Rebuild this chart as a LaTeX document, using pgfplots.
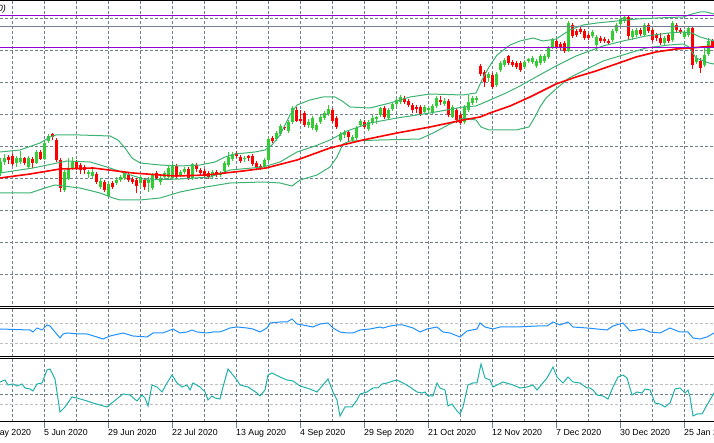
\documentclass[border=0pt]{standalone}
\usepackage{fontspec}
\setmainfont{Liberation Sans}
\usepackage{pgfplots}
\usepackage{pgfplotstable}
\pgfplotsset{compat=1.18}
\definecolor{gridc}{RGB}{112,128,144}
\definecolor{upc}{RGB}{50,205,50}
\definecolor{dnc}{RGB}{255,0,0}
\definecolor{bbc}{RGB}{60,179,113}
\definecolor{lvlc}{RGB}{192,192,192}
\definecolor{purp}{RGB}{148,0,211}
\definecolor{bluec}{RGB}{30,144,255}
\definecolor{tealc}{RGB}{32,178,170}

% candles, values in screen rows (smaller = higher price): k open high low close
\pgfplotstableread{
k o h l c
0 173 158 176 162
1 162 154 165 158
4 163 156 167 158
5 162 151 164 158
7 167 156 168 158
9 163 150 164 152
11 159 140 160 143
12 141 134 143 136
16 190 170 192 172
17 179 158 180 168
18 168 157 170 162
22 174 170 178 172
23 176 167 178 172
25 187 178 189 181
27 196 182 197 184
29 183 177 185 180
30 180 175 182 177
31 178 171 180 173
35 183 175 188 177
37 183 177 192 180
38 188 173 190 175
40 182 176 185 178
41 177 171 179 173
42 177 166 179 168
43 178 163 180 165
45 175 170 177 172
46 172 167 174 169
48 178 163 180 164
53 176 170 178 172
55 175 171 177 173
56 171 161 173 163
57 165 152 167 157
58 159 152 161 154
61 159 156 162 158
66 167 158 169 160
67 160 137 162 139
69 139 131 141 133
70 134 124 136 126
72 131 120 133 122
73 122 106 124 108
77 125 119 128 122
78 128 116 130 118
79 130 123 132 125
80 122 115 124 117
81 118 111 120 113
82 114 105 116 109
85 140 132 142 134
86 135 130 138 132
88 140 135 142 137
89 138 126 140 128
90 125 119 127 121
92 129 120 131 122
93 123 115 125 118
94 119 116 124 117
95 115 107 117 108
97 118 108 120 110
98 109 102 111 104
99 104 98 106 100
100 102 95 104 97
106 112 105 113 107
107 110 106 113 108
108 112 104 114 106
109 106 96 108 98
111 104 98 106 101
113 117 105 118 107
116 122 105 124 107
117 110 95 112 102
118 103 96 105 98
119 100 96 103 98
122 78 72 82 74
124 85 72 87 74
125 70 61 72 63
126 65 58 67 60
131 67 60 69 62
132 61 58 63 59
133 62 56 64 58
134 66 59 68 61
135 63 54 65 56
136 61 54 63 56
137 57 46 59 48
138 47 38 49 40
142 51 21 52 23
148 36 30 38 32
149 45 35 51 37
153 40 29 42 31
154 31 23 33 25
155 24 17 26 19
156 21 15 23 17
158 37 29 40 31
159 35 28 37 30
161 35 23 37 25
166 43 36 45 38
168 40 21 42 23
171 37 30 39 32
172 35 26 37 28
174 62 55 64 58
176 65 48 67 55
177 54 38 56 41
}\upcandles

\pgfplotstableread{
k o h l c
2 157 155 164 160
3 156 154 166 164
6 158 157 165 163
8 159 157 168 163
10 152 150 160 159
13 134 133 140 137
14 140 138 162 160
15 160 158 192 188
19 161 160 170 168
20 165 163 174 170
21 167 165 174 170
24 174 172 184 182
26 182 180 192 190
28 183 181 189 187
32 175 173 182 180
33 179 177 184 182
34 180 178 193 186
36 180 178 190 187
39 173 171 180 178
44 166 164 178 176
47 169 167 180 178
49 165 163 172 169
50 170 168 175 173
51 171 169 178 175
52 173 171 179 177
54 172 170 177 175
59 153 151 158 156
60 157 155 163 161
62 156 155 161 158
63 156 154 166 164
64 163 161 170 168
65 166 164 170 168
68 138 136 143 141
71 127 125 130 128
74 110 107 122 121
75 119 110 123 121
76 113 111 127 125
83 110 108 123 121
84 118 116 129 127
87 132 130 142 137
91 122 120 129 127
96 108 106 119 117
101 98 96 104 102
102 101 99 107 105
103 105 103 113 110
104 107 105 113 109
105 107 105 116 114
110 100 96 105 102
112 101 99 117 115
114 110 108 123 120
115 115 113 125 123
120 66 64 76 74
121 72 70 87 82
123 75 73 89 87
127 56 55 65 63
128 62 60 67 65
129 63 61 69 67
130 63 61 72 70
139 41 39 49 47
140 44 42 50 47
141 43 41 53 51
143 25 23 38 36
144 31 29 37 35
145 29 27 34 32
146 31 29 40 38
147 35 33 40 38
150 38 36 43 41
151 39 37 43 41
152 41 39 45 43
157 17 15 40 36
160 30 28 36 34
162 25 23 33 31
163 30 28 42 40
164 35 33 41 38
165 38 33 45 43
167 35 33 43 41
169 25 23 32 30
170 30 28 34 32
173 28 26 69 65
175 61 58 73 68
178 41 39 48 46
}\dncandles

\pgfplotstableread{
x y
0 152
20 150
40 143
50 137
56 135
80 135
110 136
118 140
125 148
132 158
140 163
160 165
180 166
200 165
215 162
225 157
235 154
255 152
265 150
272 145
280 135
290 115
297 105
310 100
323 97
335 97
342 101
350 107
370 108
390 103
410 97
430 94
463 95
476 93
482 80
489 67
497 55
510 45
520 41
533 38
543 41
556 39
570 30
583 25
597 23
617 21
637 19
657 18
683 17
692 14
700 12
706 12
714 14
}\bbupper

\pgfplotstableread{
x y
0 173
33 168
67 161
90 162
107 167
127 174
147 180
180 179
210 177
230 170
263 167
280 162
297 152
315 146
330 140
347 131
370 123
397 118
430 113
463 107
476 106
490 100
506 93
520 86
536 77
556 66
576 56
603 46
623 41
646 36
669 33
683 32
692 33
700 37
714 41
}\bbmid

\pgfplotstableread{
x y
0 193
30 193
45 188
55 185
80 188
100 193
113 198
120 200
140 200
160 198
180 192
200 188
230 183
263 182
280 183
292 186
300 180
317 175
330 167
337 157
343 144
350 141
380 140
420 139
433 133
450 124
463 118
476 120
481 127
489 130
516 130
529 127
536 115
540 107
546 98
556 89
569 78
589 68
603 61
623 55
646 48
669 45
683 44
689 47
696 58
709 63
714 64
}\bblower

\pgfplotstableread{
x y
0 178
30 174
60 169
93 168
133 173
160 175
176 176
207 175
243 171
266 168
297 160
330 148
363 140
397 133
430 127
463 120
480 117
490 113
510 106
530 97
540 92
556 84
576 77
596 71
616 64
636 57
656 52
676 49
690 48
714 46
}\ma

\pgfplotstableread{
x y
0 329
30 330
33 332
37 328
42 330
47 325
50 326
55 332
60 338
63 334
67 333
80 334
87 334
97 337
103 339
110 336
123 333
133 336
147 337
153 333
163 333
173 329
180 333
187 332
192 330
197 332
207 333
213 332
220 332
230 328
237 327
247 328
253 329
260 332
267 328
270 323
280 322
287 322
292 319
297 324
303 325
313 327
320 324
328 323
333 328
340 332
347 333
353 333
360 330
370 329
380 327
383 328
390 326
397 325
403 325
413 328
420 332
427 329
437 327
443 332
450 333
460 337
467 331
477 329
480 323
485 327
493 329
500 327
517 327
537 326
547 326
553 322
560 325
568 322
573 327
587 328
607 330
613 326
623 323
630 331
637 330
643 329
650 332
660 333
670 328
680 332
688 332
693 338
700 339
707 337
714 333
}\osca

\pgfplotstableread{
x y
0 382
5 380
8 385
13 384
17 386
22 384
25 388
30 389
33 391
37 384
42 383
47 370
50 369
55 379
60 412
65 407
72 397
77 398
87 401
93 403
100 405
107 407
113 402
123 394
130 395
137 401
142 395
145 398
148 406
152 385
157 387
162 392
167 383
172 375
177 383
182 387
187 385
190 390
193 383
200 387
205 392
208 400
212 396
215 398
220 399
223 387
228 369
237 380
240 385
248 387
257 393
260 396
265 390
268 375
272 373
280 377
287 380
293 381
300 386
310 389
317 392
328 379
333 392
337 400
340 416
345 407
352 407
357 400
360 394
367 392
373 388
378 388
382 384
387 383
393 381
397 380
403 383
410 387
417 392
422 393
425 392
428 396
433 396
437 383
440 388
445 390
448 406
452 404
457 411
460 414
463 407
468 385
473 383
477 383
481 364
485 378
490 380
493 387
503 382
513 385
520 388
527 387
533 385
537 390
542 384
547 378
553 367
557 377
563 383
568 377
573 382
580 383
587 388
590 388
593 390
597 395
603 396
608 399
613 387
618 377
623 375
627 378
632 395
637 392
642 393
645 389
650 390
655 403
660 404
665 407
670 403
675 389
680 388
685 393
688 390
690 397
693 416
697 414
702 414
707 405
714 393
}\oscb

\pgfplotsset{
  panel/.style={
    scale only axis, width=734pt, xmin=-20, xmax=714, y dir=reverse,
    anchor=south west, axis line style={draw=none},
    xtick={-19.5,44.5,...,684.5}, minor xtick={12.5,76.5,...,652.5},
    xmajorgrids, xminorgrids,
    major grid style={gridc, line width=1pt, dash pattern=on 3pt off 2pt},
    minor grid style={gridc, line width=1pt, dash pattern=on 3pt off 2pt},
    xticklabels={}, yticklabels={},
    major tick length=0pt, minor tick length=0pt,
    clip mode=individual,
  },
  wick/.style={draw=none, mark=none, forget plot,
    error bars/.cd, y dir=both, y explicit, error mark=none,
    error bar style={draw=#1, line width=1pt, solid}},
  body/.style={draw=none, mark=none, forget plot,
    error bars/.cd, y dir=both, y explicit, error mark=none,
    error bar style={draw=#1, line width=3pt, solid}},
}

\begin{document}
\begin{tikzpicture}
\useasboundingbox (0,0) rectangle (714pt,443pt);
\clip (0,0) rectangle (714pt,443pt);

% ---------- main price panel ----------
\begin{axis}[panel, at={(-20pt,136pt)}, height=306pt, ymin=1, ymax=307,
  ytick={18.5,50.5,...,274.5}, ymajorgrids]
\addplot[wick=upc] table[x expr={4*\thisrow{k}+0.5}, y expr={(\thisrow{h}+\thisrow{l})/2},
  y error expr={(\thisrow{l}-\thisrow{h})/2}] {\upcandles};
\addplot[body=upc] table[x expr={4*\thisrow{k}+0.5}, y expr={(\thisrow{o}+\thisrow{c})/2},
  y error expr={max((\thisrow{o}-\thisrow{c})/2,0.5)}] {\upcandles};
\addplot[wick=dnc] table[x expr={4*\thisrow{k}+0.5}, y expr={(\thisrow{h}+\thisrow{l})/2},
  y error expr={(\thisrow{l}-\thisrow{h})/2}] {\dncandles};
\addplot[body=dnc] table[x expr={4*\thisrow{k}+0.5}, y expr={(\thisrow{o}+\thisrow{c})/2},
  y error expr={max((\thisrow{c}-\thisrow{o})/2,0.5)}] {\dncandles};
\addplot[bbc, line width=1pt] table {\bbupper};
\addplot[bbc, line width=1pt] table {\bbmid};
\addplot[bbc, line width=1pt] table {\bblower};
\addplot[dnc, line width=1.6pt] table {\ma};
\addplot[gridc, line width=1pt] coordinates {(-20,26.5) (714,26.5)};
\addplot[purp, line width=1pt] coordinates {(-20,15.5) (714,15.5)};
\addplot[purp, line width=1pt] coordinates {(-20,47.5) (714,47.5)};
\draw[black, line width=1pt] (rel axis cs:0,0) -- (rel axis cs:1,0);
\draw[black, line width=1pt] (rel axis cs:0,1) -- (rel axis cs:1,1);
\end{axis}

% ---------- oscillator 1 ----------
\begin{axis}[panel, at={(-20pt,86pt)}, height=48pt, ymin=309, ymax=357, ytick=\empty]
\addplot[lvlc, line width=1pt, dash pattern=on 3pt off 2pt] coordinates {(-20,323.5) (714,323.5)};
\addplot[lvlc, line width=1pt, dash pattern=on 3pt off 2pt] coordinates {(-20,343.5) (714,343.5)};
\addplot[bluec, line width=1pt] table {\osca};
\draw[black, line width=1pt] (rel axis cs:0,0) -- (rel axis cs:1,0);
\draw[black, line width=1pt] (rel axis cs:0,1) -- (rel axis cs:1,1);
\end{axis}

% ---------- oscillator 2 with date axis ----------
\begin{axis}[panel, at={(-20pt,21pt)}, height=63pt, ymin=359, ymax=422,
  ytick={394.5}, ymajorgrids,
  xticklabels={26 May 2020,5 Jun 2020,29 Jun 2020,22 Jul 2020,13 Aug 2020,4 Sep 2020,
    29 Sep 2020,21 Oct 2020,12 Nov 2020,7 Dec 2020,30 Dec 2020,25 Jan 2021},
  major tick length=6pt, tick align=outside, xtick pos=bottom, ytick pos=left,
  major tick style={gridc, line width=1pt},
  xticklabel style={anchor=north west, inner sep=0pt, xshift=-0.5pt, yshift=-1pt,
    font=\fontsize{8.8}{10}\selectfont},
]
\addplot[lvlc, line width=1pt, dash pattern=on 3pt off 2pt] coordinates {(-20,384.5) (714,384.5)};
\addplot[lvlc, line width=1pt, dash pattern=on 3pt off 2pt] coordinates {(-20,404.5) (714,404.5)};
\addplot[tealc, line width=1pt] table {\oscb};
\draw[black, line width=1pt] (rel axis cs:0,0) -- (rel axis cs:1,0);
\draw[black, line width=1pt] (rel axis cs:0,1) -- (rel axis cs:1,1);
\end{axis}

\node[anchor=base east, inner sep=0pt, font=\fontsize{9}{10}\selectfont\itshape] at (6pt,431pt) {0)};
\end{tikzpicture}
\end{document}
